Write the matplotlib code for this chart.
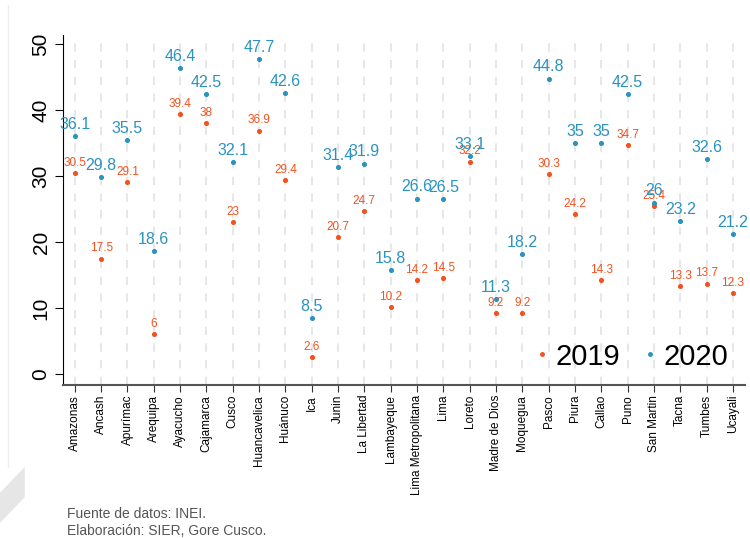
import numpy as np
import matplotlib.pyplot as plt
from matplotlib.patches import Polygon
from matplotlib.lines import Line2D

plt.rcParams['font.family'] = ['Liberation Sans', 'DejaVu Sans']

# Datos por departamento
departamentos = ["Amazonas", "Ancash", "Apurímac", "Arequipa", "Ayacucho", "Cajamarca",
                 "Cusco", "Huancavelica", "Huánuco", "Ica", "Junin", "La Libertad",
                 "Lambayeque", "Lima Metropolitana", "Lima", "Loreto", "Madre de Dios",
                 "Moquegua", "Pasco", "Piura", "Callao", "Puno", "San Martin", "Tacna",
                 "Tumbes", "Ucayali"]
valores_2019 = [30.5, 17.5, 29.1, 6, 39.4, 38, 23, 36.9, 29.4, 2.6, 20.7, 24.7,
                10.2, 14.2, 14.5, 32.2, 9.2, 9.2, 30.3, 24.2, 14.3, 34.7, 25.4, 13.3,
                13.7, 12.3]
valores_2020 = [36.1, 29.8, 35.5, 18.6, 46.4, 42.5, 32.1, 47.7, 42.6, 8.5, 31.4, 31.9,
                15.8, 26.6, 26.5, 33.1, 11.3, 18.2, 44.8, 35, 35, 42.5, 26, 23.2,
                32.6, 21.2]

naranja = '#F4511E'
azul = '#2A93BF'

fig = plt.figure(figsize=(7.5, 5.38), dpi=100)
ax = fig.add_axes([0.084, 0.284, 0.909, 0.651])

x = np.arange(len(departamentos))

# lineas verticales punteadas
for xi in x:
    ax.axvline(xi, color='#e3e3e3', lw=1.2, ls=(0, (5, 5)), zorder=0)

ax.scatter(x, valores_2019, s=7, color=naranja, zorder=3)
ax.scatter(x, valores_2020, s=7, color=azul, zorder=3)

for xi, v in zip(x, valores_2019):
    ax.annotate(f"{v:g}", (xi, v), xytext=(0, 3), textcoords='offset points',
                ha='center', va='bottom', fontsize=8.5, color=naranja)
for xi, v in zip(x, valores_2020):
    ax.annotate(f"{v:g}", (xi, v), xytext=(0, 3), textcoords='offset points',
                ha='center', va='bottom', fontsize=11.5, color=azul)

ax.set_xlim(-0.45, len(departamentos) - 0.55)
ax.set_ylim(-1.7, 51.4)
ax.set_xticks(x)
ax.set_xticklabels(departamentos, rotation=90, fontsize=8.5)
ax.set_yticks([0, 10, 20, 30, 40, 50])
ax.set_yticklabels(['0', '10', '20', '30', '40', '50'], rotation=90, va='center', fontsize=15)

ax.spines['top'].set_visible(False)
ax.spines['right'].set_visible(False)
ax.spines['left'].set_color('black')
ax.spines['bottom'].set_color('#555555')
ax.spines['bottom'].set_linewidth(1.5)
ax.tick_params(axis='x', length=5, color='#333333', pad=2)
ax.tick_params(axis='y', length=6, pad=3)

handles = [Line2D([], [], marker='o', ls='', color=naranja, markersize=2.5),
           Line2D([], [], marker='o', ls='', color=azul, markersize=2.5)]
ax.legend(handles, ['2019', '2020'], loc='lower right', ncol=2, frameon=False,
          fontsize=21, handlelength=0.3, handletextpad=0.3, columnspacing=0.9,
          borderpad=0.3, bbox_to_anchor=(1.01, -0.025))

# decoracion de fondo
fig.add_artist(Line2D([0.011, 0.011], [0.132, 0.99], color='#eeeeee', lw=1))
fig.add_artist(Polygon([[0.0, 0.084], [0.033, 0.132], [0.033, 0.076], [0.0, 0.028]],
                       closed=True, color='#e6e6e6', lw=0))

fig.text(0.089, 0.038, "Fuente de datos: INEI.", fontsize=10, color='#555555')
fig.text(0.089, 0.005, "Elaboración: SIER, Gore Cusco.", fontsize=10, color='#555555')

fig.savefig('out.png', dpi=100)
